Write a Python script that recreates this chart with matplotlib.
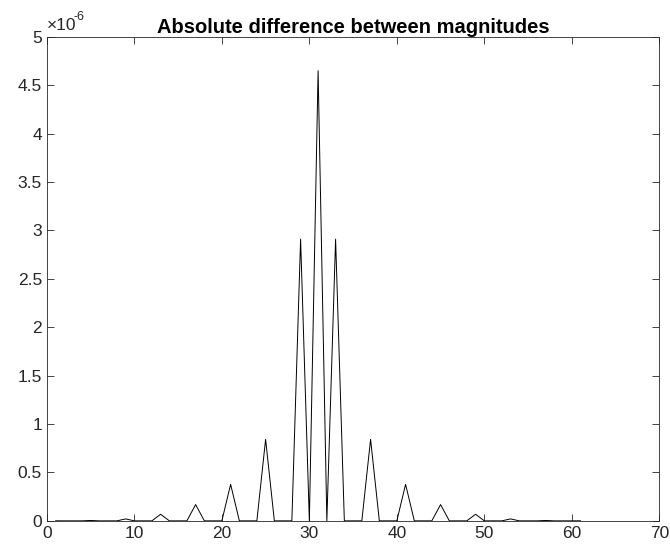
import matplotlib.pyplot as plt
import numpy as np
from matplotlib.ticker import FuncFormatter

plt.rcParams['font.family'] = ['Liberation Sans', 'DejaVu Sans']

# sample index 1..61
x = np.arange(1, 62)

# peak positions and their heights (x 1e-6); everything else is zero
peak_idx = [1, 5, 9, 13, 17, 21, 25, 29, 31, 33, 37, 41, 45, 49, 53, 57, 61]
peak_val = [0.0005, 0.004, 0.02, 0.068, 0.168, 0.377, 0.842, 2.91, 4.65,
            2.91, 0.842, 0.377, 0.168, 0.068, 0.02, 0.004, 0.0005]

y = np.zeros(len(x))
for i, v in zip(peak_idx, peak_val):
    y[i - 1] = v * 1e-6

fig = plt.figure(figsize=(6.7, 5.5), dpi=100)
ax = fig.add_axes([0.070, 0.053, 0.914, 0.880])

ax.plot(x, y, color='black', linewidth=0.7)

ax.set_xlim(0, 70)
ax.set_ylim(0, 5e-6)
ax.set_xticks(range(0, 71, 10))
ax.set_yticks(np.arange(0, 5.01, 0.5) * 1e-6)
ax.yaxis.set_major_formatter(FuncFormatter(lambda v, p: '%g' % round(v * 1e6, 3)))

ax.tick_params(direction='in', top=True, right=True, length=5, width=0.6,
               labelsize=12.5, colors='#262626')
for s in ax.spines.values():
    s.set_color('#262626')
    s.set_linewidth(0.6)

# MATLAB style exponent label
ax.text(0.0, 1.008, '\u00d710', transform=ax.transAxes,
        fontsize=12.5, ha='left', va='bottom', color='#262626')
ax.annotate('-6', xy=(0.0, 1.008), xycoords='axes fraction',
            xytext=(19.5, 7), textcoords='offset points',
            fontsize=9, ha='left', va='bottom', color='#262626')
ax.set_title('Absolute difference between magnitudes', fontsize=14.5,
             fontweight='bold', pad=3)

fig.savefig('out.png')
